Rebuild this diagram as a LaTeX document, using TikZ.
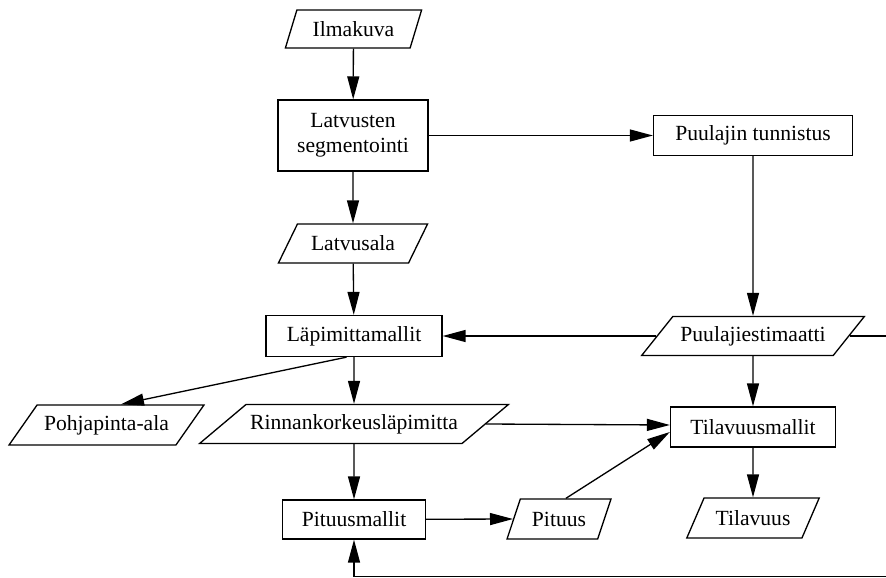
\documentclass[tikz,border=0pt]{standalone}
\usepackage{fontspec}
\setmainfont{Liberation Serif}
\usetikzlibrary{shapes.geometric, arrows.meta, positioning, calc}
\newcommand{\flowfont}{\fontsize{12.3}{14}\selectfont}
\tikzset{
  basebox/.style={rectangle,draw=black,line width=0.75pt,align=center,font=\flowfont,inner sep=2pt},
  procnode/.style={basebox},
  ionode/.style={trapezium,trapezium left angle=#1,trapezium right angle=180-#1,
    trapezium stretches=true,draw=black,line width=0.75pt,font=\flowfont,inner sep=2pt},
  arr/.style={-{Triangle[length=0.46cm,width=0.24cm]},line width=0.75pt,color=black}
}

\begin{document}
\begin{tikzpicture}[x=0.02cm,y=-0.02cm]
  \useasboundingbox (0,0) rectangle (886,578);
  \clip (0,0) rectangle (886,578);

  %% Left column
  \node[ionode=68,minimum width=2.74cm,minimum height=0.76cm] (ilma) at (353.5,29) {Ilmakuva};
  \node[procnode,minimum width=3.0cm,minimum height=1.42cm] (latseg) at (353,135.5)
    {Latvusten\\segmentointi};
  \node[ionode=55,minimum width=3.0cm,minimum height=0.78cm] (latala) at (353,243.5) {Latvusala};
  \node[procnode,minimum width=3.52cm,minimum height=0.82cm] (lapmal) at (354,336) {Läpimittamallit};
  \node[ionode=45,minimum width=3.9cm,minimum height=0.8cm] (pohja) at (106.5,425) {Pohjapinta-ala};
  \node[ionode=30,minimum width=6.18cm,minimum height=0.78cm] (rinn) at (354,424) {Rinnankorkeusläpimitta};
  \node[procnode,minimum width=2.86cm,minimum height=0.78cm] (pitmal) at (354,519.5) {Pituusmallit};
  \node[ionode=64,minimum width=2.08cm,minimum height=0.8cm] (pituus) at (559,519) {Pituus};

  %% Right column
  \node[procnode,minimum width=3.98cm,minimum height=0.8cm] (puutun) at (753,135.5) {Puulajin tunnistus};
  \node[ionode=42,minimum width=4.46cm,minimum height=0.78cm] (puuest) at (753,336) {Puulajiestimaatti};
  \node[procnode,minimum width=3.3cm,minimum height=0.8cm] (tilmal) at (753,427) {Tilavuusmallit};
  \node[ionode=57,minimum width=2.66cm,minimum height=0.8cm] (tilav) at (753,518) {Tilavuus};

  \coordinate (rim) at (893,576.5);

  \draw[arr] (ilma) -- (latseg);
  \draw[arr] (latseg) -- (puutun);
  \draw[arr] (latseg) -- (latala);
  \draw[arr] (latala) -- (lapmal);
  \draw[arr] (puutun) -- (puuest);
  \draw[arr] (puuest.left side) -- (lapmal.east);
  \draw[arr] ([xshift=-0.15cm]lapmal.south) -- (pohja.top side);
  \draw[arr] (lapmal) -- (rinn);
  \draw[arr] (rinn.right side) -- ([yshift=0.04cm]tilmal.west);
  \draw[arr] (rinn) -- (pitmal);
  \draw[arr] (pitmal) -- (pituus.left side);
  \draw[arr] (pituus.top side) -- ([yshift=-0.1cm]tilmal.west);
  \draw[arr] (puuest) -- (tilmal);
  \draw[arr] (tilmal) -- (tilav);
  \draw[arr] (puuest.right side) -- (puuest.right side -| rim) -- (rim) -| (pitmal.south);
\end{tikzpicture}
\end{document}
